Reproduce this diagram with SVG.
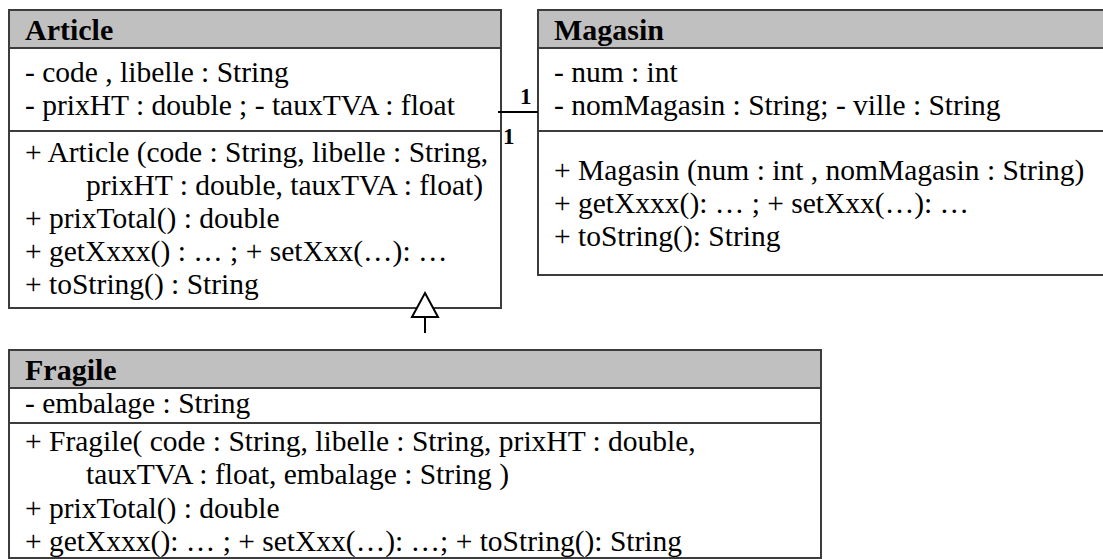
<svg xmlns="http://www.w3.org/2000/svg" width="1103" height="559" viewBox="0 0 1103 559">
<style>
.box{fill:#ffffff;stroke:#3c3c3c;stroke-width:2}
.hdr{fill:#c0c0c0;stroke:#3c3c3c;stroke-width:2}
.div{stroke:#3c3c3c;stroke-width:2}
.t{font-family:"Liberation Serif","Times New Roman",serif;font-size:29.5px;fill:#000}
.h{font-family:"Liberation Serif","Times New Roman",serif;font-size:30px;font-weight:bold;fill:#000}
.m{font-family:"Liberation Serif","Times New Roman",serif;font-size:23px;font-weight:bold;fill:#000}
.ln{stroke:#000;stroke-width:2;fill:none}
.tri{fill:#ffffff;stroke:#000;stroke-width:2}
</style>
<rect x="0" y="0" width="1103" height="559" fill="#ffffff"/>
<g id="article">
<rect class="box" x="9" y="10" width="492" height="298"/>
<rect class="hdr" x="9" y="10" width="492" height="38"/>
<line class="div" x1="9" y1="131" x2="501" y2="131"/>
<text class="h" x="25" y="40">Article</text>
<text class="t" x="25" y="82">- code , libelle : String</text>
<text class="t" x="25" y="115">- prixHT : double ; - tauxTVA : float</text>
<text class="t" x="25" y="162">+ Article (code : String, libelle : String,</text>
<text class="t" x="86" y="195">prixHT : double, tauxTVA : float)</text>
<text class="t" x="25" y="228">+ prixTotal() : double</text>
<text class="t" x="25" y="261">+ getXxxx() : … ; + setXxx(…): …</text>
<text class="t" x="25" y="294">+ toString() : String</text>
</g>
<g id="magasin">
<rect class="box" x="538" y="10" width="570" height="265"/>
<rect class="hdr" x="538" y="10" width="570" height="38"/>
<line class="div" x1="538" y1="131" x2="1108" y2="131"/>
<text class="h" x="554" y="40">Magasin</text>
<text class="t" x="554" y="82">- num : int</text>
<text class="t" x="554" y="115">- nomMagasin : String; - ville : String</text>
<text class="t" x="554" y="180">+ Magasin (num : int , nomMagasin : String)</text>
<text class="t" x="554" y="213">+ getXxxx(): … ; + setXxx(…): …</text>
<text class="t" x="554" y="246">+ toString(): String</text>
</g>
<g id="fragile">
<rect class="box" x="9" y="350" width="812" height="208"/>
<rect class="hdr" x="9" y="350" width="812" height="38"/>
<line class="div" x1="9" y1="423" x2="821" y2="423"/>
<text class="h" x="25" y="380">Fragile</text>
<text class="t" x="25" y="413">- embalage : String</text>
<text class="t" x="25" y="451">+ Fragile( code : String, libelle : String, prixHT : double,</text>
<text class="t" x="86" y="484">tauxTVA : float, embalage : String )</text>
<text class="t" x="25" y="518">+ prixTotal() : double</text>
<text class="t" x="25" y="551">+ getXxxx(): … ; + setXxx(…): …; + toString(): String</text>
</g>
<g id="connectors">
<line class="ln" x1="498" y1="112" x2="538" y2="112"/>
<text class="m" x="520" y="104">1</text>
<text class="m" x="503" y="144">1</text>
<line class="ln" x1="425" y1="317" x2="425" y2="333"/>
<polygon class="tri" points="425,293 438,317 412,317"/>
</g>
</svg>
